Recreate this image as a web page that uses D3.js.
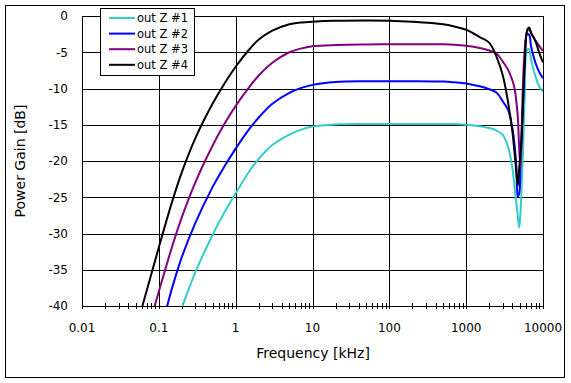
<!DOCTYPE html>
<html>
<head>
<meta charset="utf-8">
<script src="https://cdn.jsdelivr.net/npm/d3@7"></script>
<style>
body { margin: 0; background: #fff; }
text { font-family: "DejaVu Sans", sans-serif; }
</style>
</head>
<body>
<script>
// chart data (frequency in kHz, gain in dB)
var freqs = [0.05, 0.07, 0.1, 0.15, 0.2, 0.3, 0.5, 0.7, 1, 1.5, 2, 3, 5, 7, 10, 20, 50, 100, 200, 500, 700,
	1000, 1500, 2000, 2500, 3000, 3500, 4000, 4300, 4500, 4700, 4900, 5100, 5300, 5500, 5800, 6200, 6600, 7000,
	8000, 9000, 10000];
var outZ1 = [-57, -53, -49, -44, -40.2, -35.3, -30.2, -27.25, -24.45, -21.45, -19.7, -17.8, -16.35, -15.7, -15.25, -14.95, -14.9, -14.9, -14.9, -14.9, -14.9,
	-15.0, -15.2, -15.45, -15.8, -16.4, -18, -21, -24, -25.8, -27.6, -29.2, -27, -23, -18.5, -10.6, -4.7, -4.6, -6.0,
	-8.4, -9.8, -10.4];
var outZ2 = [-52, -48, -44, -37.4, -33.2, -28.5, -23.6, -20.9, -18.3, -15.6, -14.0, -12.1, -10.6, -9.95, -9.5, -9.1, -9.0, -9.0, -9.0, -9.05, -9.15,
	-9.3, -9.7, -10.1, -10.6, -11.8, -12.9, -15.5, -18.2, -20.8, -24.9, -24.5, -20, -15.5, -12, -6.5, -2.5, -2.6, -4.2,
	-6.5, -7.8, -8.6];
var outZ3 = [-49.3, -43.7, -38, -31.7, -27.7, -22.9, -17.9, -15.05, -12.4, -9.8, -8.2, -6.45, -5.0, -4.5, -4.18, -4.0, -3.92, -3.9, -3.9, -3.9, -3.95,
	-4.1, -4.4, -4.75, -5.2, -6.3, -7.4, -8.9, -10.2, -11.8, -13.9, -18.3, -21, -15, -9, -4.5, -2.2, -1.7, -2.4,
	-3.4, -4.2, -4.8];
var outZ4 = [-43.3, -37.75, -31.9, -25.5, -21.5, -16.8, -12.1, -9.47, -7.0, -4.62, -3.25, -2.02, -1.13, -0.9, -0.78, -0.66, -0.62, -0.65, -0.8, -1.15, -1.45,
	-1.9, -2.9, -3.7, -5.7, -8.2, -11.8, -16, -19.3, -21.6, -23.4, -21, -19, -16.5, -12, -6.1, -2, -1.6, -2.3,
	-3.5, -5.2, -6.4];
var seriesNames = ["out Z #1", "out Z #2", "out Z #3", "out Z #4"];
var seriesColors = ["#33cccc", "#0000ff", "#800080", "#000000"];
var xTicks = [0.01, 0.1, 1, 10, 100, 1000, 10000];
var yTicks = [0, -5, -10, -15, -20, -25, -30, -35, -40];

var svg = d3.select("body")
	.append("svg")
	.attr("width", 571)
	.attr("height", 383);

// outer frame
svg.append("rect")
	.attr("x", 5.5)
	.attr("y", 5.5)
	.attr("width", 559)
	.attr("height", 372)
	.attr("fill", "#fff")
	.attr("stroke", "#000")
	.attr("stroke-width", 1);

var xScale = d3.scaleLog()
	.domain([0.01, 10000])
	.range([82, 543]);
var yScale = d3.scaleLinear()
	.domain([-40, 0])
	.range([306, 16]);

var grid = svg.append("g")
	.attr("shape-rendering", "crispEdges")
	.attr("stroke", "#000")
	.attr("stroke-width", 1);

// horizontal grid
grid.selectAll(".hg")
	.data(yTicks)
	.enter().append("line")
	.attr("x1", xScale(0.01))
	.attr("x2", xScale(10000))
	.attr("y1", function(d) { return Math.round(yScale(d)) + 0.5; })
	.attr("y2", function(d) { return Math.round(yScale(d)) + 0.5; });

// vertical grid
grid.selectAll(".vg")
	.data(xTicks)
	.enter().append("line")
	.attr("x1", function(d) { return Math.round(xScale(d)) + 0.5; })
	.attr("x2", function(d) { return Math.round(xScale(d)) + 0.5; })
	.attr("y1", yScale(0))
	.attr("y2", yScale(-40) + 3);

// minor ticks on x axis
var minor = [];
xTicks.slice(0, -1).forEach(function(t) {
	for (var k = 2; k <= 9; k++) minor.push(t * k);
});
grid.selectAll(".mt")
	.data(minor)
	.enter().append("line")
	.attr("x1", function(d) { return Math.round(xScale(d)) + 0.5; })
	.attr("x2", function(d) { return Math.round(xScale(d)) + 0.5; })
	.attr("y1", yScale(-40) - 3)
	.attr("y2", yScale(-40) + 3);

// tick labels
svg.append("g")
	.selectAll("text")
	.data(xTicks)
	.enter().append("text")
	.attr("x", function(d) { return xScale(d); })
	.attr("y", 332)
	.attr("text-anchor", "middle")
	.attr("font-size", 12)
	.attr("fill", "#000")
	.text(function(d) { return d; });

svg.append("g")
	.selectAll("text")
	.data(yTicks)
	.enter().append("text")
	.attr("x", 68)
	.attr("y", function(d) { return yScale(d); })
	.attr("dy", "0.36em")
	.attr("text-anchor", "end")
	.attr("font-size", 12)
	.attr("fill", "#000")
	.text(function(d) { return d; });

// axis titles
svg.append("text")
	.attr("x", 313)
	.attr("y", 358)
	.attr("text-anchor", "middle")
	.attr("font-size", 14)
	.attr("fill", "#000")
	.text("Frequency [kHz]");

svg.append("text")
	.attr("transform", "translate(25,161) rotate(-90)")
	.attr("text-anchor", "middle")
	.attr("font-size", 14)
	.attr("fill", "#000")
	.text("Power Gain [dB]");

// clip to plot area
svg.append("clipPath")
	.attr("id", "plotClip")
	.append("rect")
	.attr("x", xScale(0.01))
	.attr("y", yScale(0))
	.attr("width", xScale(10000) - xScale(0.01))
	.attr("height", yScale(-40) - yScale(0));

var line = d3.line()
	.x(function(d) { return xScale(d[0]); })
	.y(function(d) { return yScale(d[1]); })
	.curve(d3.curveCatmullRom.alpha(0.5));

var allSeries = [outZ1, outZ2, outZ3, outZ4];
svg.append("g")
	.attr("clip-path", "url(#plotClip)")
	.selectAll("path")
	.data(allSeries)
	.enter().append("path")
	.attr("d", function(vals) {
		return line(freqs.map(function(f, i) { return [f, vals[i]]; }));
	})
	.attr("fill", "none")
	.attr("stroke", function(d, i) { return seriesColors[i]; })
	.attr("stroke-width", 2);

// legend
var legend = svg.append("g");
legend.append("rect")
	.attr("x", 100.5)
	.attr("y", 8.5)
	.attr("width", 94)
	.attr("height", 67)
	.attr("fill", "#fff")
	.attr("stroke", "#000")
	.attr("stroke-width", 1);

var items = legend.selectAll("g")
	.data(seriesNames)
	.enter().append("g")
	.attr("transform", function(d, i) { return "translate(0," + (18 + i * 15.6) + ")"; });

items.append("line")
	.attr("x1", 109)
	.attr("x2", 135)
	.attr("y1", 0)
	.attr("y2", 0)
	.attr("stroke", function(d, i) { return seriesColors[i]; })
	.attr("stroke-width", 2);

items.append("text")
	.attr("x", 137)
	.attr("y", 0)
	.attr("dy", "0.36em")
	.attr("font-size", 11.5)
	.attr("fill", "#000")
	.text(function(d) { return d; });
</script>
</body>
</html>
